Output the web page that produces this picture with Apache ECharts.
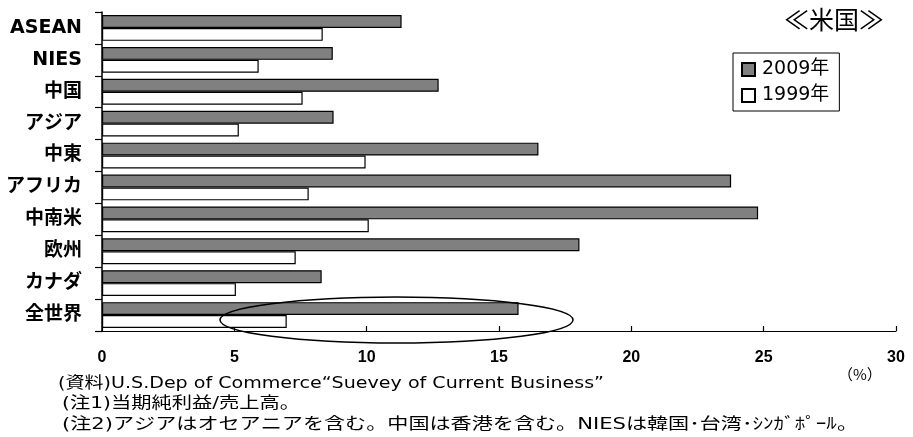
<!DOCTYPE html>
<html>
<head>
<meta charset="utf-8">
<script src="https://cdn.jsdelivr.net/npm/echarts@6/dist/echarts.min.js"></script>
<style>
  html, body { margin: 0; padding: 0; background: #fff; }
  #chart { width: 913px; height: 437px; }
</style>
</head>
<body>
<div id="chart"></div>
<script>
// Net profit / sales of US affiliates by region (%)
const regions = ['ASEAN', 'NIES', '中国', 'アジア', '中東', 'アフリカ', '中南米', '欧州', 'カナダ', '全世界'];
const values2009 = [11.32, 8.72, 12.72, 8.75, 16.49, 23.77, 24.79, 18.04, 8.30, 15.74];
const values1999 = [8.34, 5.92, 7.58, 5.17, 9.96, 7.81, 10.08, 7.32, 5.06, 6.98];
const seriesNames = ['2009年', '1999年'];
const xTicks = [0, 5, 10, 15, 20, 25, 30];
const titleText = '≪米国≫';
const unitText = '（%）';
const notes = [
  '(資料)U.S.Dep of Commerce“Suevey of Current Business”',
  '(注1)当期純利益/売上高。',
  '(注2)アジアはオセアニアを含む。中国は香港を含む。NIESは韓国･台湾･ｼﾝｶﾞﾎﾟｰﾙ。'
];

const chart = echarts.init(document.getElementById('chart'), null, { renderer: 'canvas' });
const latin = '"Liberation Sans", Arial, "Noto Sans CJK JP", sans-serif';
const cjk = '"DejaVu Sans", "Noto Sans CJK JP", sans-serif';
const noteFont = '16px "DejaVu Sans", "Noto Sans CJK JP", sans-serif';

// stretch a footnote line horizontally so it spans the given width
const measureCtx = document.createElement('canvas').getContext('2d');
function noteLine(text, x, y, width) {
  measureCtx.font = noteFont;
  const w = measureCtx.measureText(text).width;
  return {
    type: 'text', x: x, y: y, scaleX: width / w, scaleY: 1,
    style: { text: text, font: noteFont, fill: '#000' }
  };
}

chart.setOption({
  animation: false,
  backgroundColor: '#fff',
  title: {
    text: titleText,
    left: 784,
    top: 7,
    padding: 0,
    textStyle: { fontFamily: '"Noto Sans CJK JP", sans-serif', fontSize: 25, fontWeight: 'normal', color: '#000' }
  },
  legend: {
    orient: 'vertical',
    left: 733,
    top: 53,
    padding: [7, 10, 6, 8],
    itemGap: 7,
    itemWidth: 13,
    itemHeight: 13,
    icon: 'rect',
    borderColor: '#000',
    borderWidth: 1,
    backgroundColor: '#fff',
    data: seriesNames,
    textStyle: { fontFamily: cjk, fontSize: 19, color: '#000', padding: [0, 0, 0, 2] }
  },
  grid: { left: 102, top: 12, right: 17, bottom: 106, containLabel: false },
  xAxis: {
    type: 'value',
    min: xTicks[0],
    max: xTicks[xTicks.length - 1],
    interval: xTicks[1] - xTicks[0],
    axisLine: { show: true, lineStyle: { color: '#000', width: 1.2 } },
    axisTick: { show: true, inside: true, length: 5, lineStyle: { color: '#000', width: 1.2 } },
    splitLine: { show: false },
    axisLabel: { fontFamily: latin, fontSize: 16, fontWeight: 'bold', color: '#000', margin: 19 }
  },
  yAxis: {
    type: 'category',
    inverse: true,
    data: regions,
    axisLine: { show: true, lineStyle: { color: '#000', width: 1.5 } },
    axisTick: { show: true, length: 7, lineStyle: { color: '#000', width: 1.2 } },
    axisLabel: { fontFamily: cjk, fontSize: 19, fontWeight: 'bold', color: '#000', margin: 20 }
  },
  series: [
    {
      name: seriesNames[0],
      type: 'bar',
      data: values2009,
      barGap: '0%',
      barCategoryGap: '19%',
      itemStyle: { color: '#808080', borderColor: '#000', borderWidth: 1.2 }
    },
    {
      name: seriesNames[1],
      type: 'bar',
      data: values1999,
      barGap: '0%',
      barCategoryGap: '19%',
      itemStyle: { color: '#fff', borderColor: '#000', borderWidth: 1.2 }
    }
  ],
  graphic: [
    // highlight ring around the world total
    {
      type: 'ellipse',
      shape: { cx: 396.5, cy: 320, rx: 176.5, ry: 23 },
      style: { fill: 'none', stroke: '#000', lineWidth: 1.5 },
      z: 100
    },
    {
      type: 'text', left: 838, top: 367,
      style: { text: unitText, font: '15px "Noto Sans CJK JP", sans-serif', fill: '#000' }
    },
    noteLine(notes[0], 58, 376, 546),
    noteLine(notes[1], 62, 396, 238),
    noteLine(notes[2], 62, 417, 796)
  ]
});
</script>
</body>
</html>
